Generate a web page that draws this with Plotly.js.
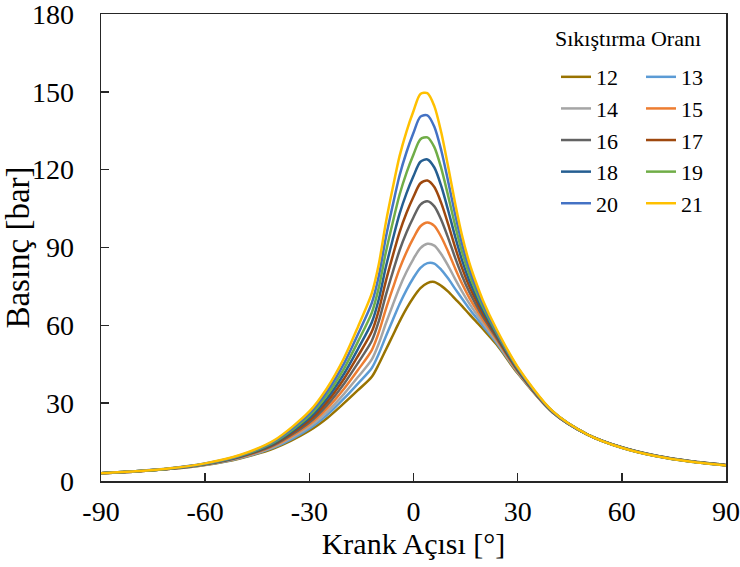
<!DOCTYPE html>
<html>
<head>
<meta charset="utf-8">
<script src="https://cdn.plot.ly/plotly-3.0.1.min.js"></script>
<style>html,body{margin:0;padding:0;background:#fff;}#chart{width:740px;height:567px;}</style>
</head>
<body>
<div id="chart"></div>
<script>
const angles = [-90,-80,-70,-60,-50,-40,-30,-25,-20,-16,-12,-10,-8,-6,-4,-2,0,2,4,6,8,10,12,14,16,18,20,24,30,40,50,60,70,80,90];
const cr12 = [3.0,3.65,4.67,6.2,8.7,12.7,19.4,24.1,30.0,35.0,40.2,45.0,50.5,56.0,61.5,66.5,70.8,74.3,76.3,76.7,75.2,73.0,70.2,67.4,64.4,61.5,58.6,52.5,41.5,26.5,18.0,13.0,9.7,7.6,6.2];
const cr13 = [3.0,3.66,4.7,6.26,8.84,13.03,20.18,25.31,31.83,37.56,43.58,49.04,55.62,61.96,68.2,73.67,78.34,82.16,83.99,83.82,81.41,78.04,74.06,70.25,66.51,63.09,59.76,53.1,41.8,26.5,18.0,13.0,9.7,7.6,6.2];
const cr14 = [3.0,3.67,4.72,6.32,8.97,13.34,20.93,26.48,33.6,40.05,46.87,52.97,60.6,67.76,74.71,80.64,85.66,89.8,91.45,90.73,87.43,82.94,77.82,73.01,68.56,64.63,60.88,53.7,42.0,26.6,18.0,12.9,9.7,7.6,6.2];
const cr15 = [3.0,3.69,4.75,6.39,9.12,13.69,21.76,27.77,35.55,42.78,50.47,57.28,66.07,74.12,81.85,88.29,93.7,98.19,99.65,98.33,94.05,88.31,81.94,76.04,70.81,66.32,62.11,54.4,42.3,26.6,18.0,12.9,9.6,7.5,6.1];
const cr16 = [3.0,3.7,4.77,6.46,9.26,14.03,22.58,29.05,37.48,45.49,54.05,61.56,71.48,80.42,88.93,95.87,101.67,106.51,107.78,105.85,100.61,93.64,86.02,79.05,73.04,67.99,63.33,55.0,42.6,26.7,18.0,12.9,9.6,7.5,6.1];
const cr17 = [3.0,3.72,4.8,6.52,9.4,14.37,23.4,30.31,39.4,48.18,57.59,65.79,76.85,86.67,95.95,103.38,109.57,114.75,115.83,113.31,107.11,98.92,90.07,82.03,75.25,69.65,64.54,55.7,42.9,26.7,18.0,12.9,9.6,7.5,6.1];
const cr18 = [3.0,3.73,4.83,6.59,9.55,14.72,24.22,31.59,41.33,50.88,61.16,70.06,82.27,92.98,103.03,110.96,117.54,123.06,123.95,120.84,113.67,104.25,94.16,85.04,77.49,71.33,65.76,56.3,43.2,26.8,18.0,12.9,9.6,7.5,6.1];
const cr19 = [3.0,3.74,4.85,6.66,9.7,15.08,25.08,32.92,43.35,53.71,64.9,74.53,87.93,99.57,110.43,118.89,125.87,131.75,132.44,128.7,120.53,109.82,98.43,88.19,79.82,73.08,67.04,57.0,43.5,26.9,18.0,12.8,9.5,7.4,6.0];
const cr20 = [3.0,3.76,4.88,6.73,9.85,15.44,25.93,34.25,45.36,56.55,68.63,79.0,93.59,106.15,117.84,126.81,134.2,140.44,140.94,136.57,127.39,115.38,102.69,91.33,82.15,74.83,68.31,57.6,43.7,26.9,18.0,12.8,9.5,7.4,6.0];
const cr21 = [3.0,3.77,4.91,6.8,10.0,15.8,26.8,35.6,47.4,59.4,72.4,83.5,99.3,112.8,125.3,134.8,142.6,149.2,149.5,144.5,134.3,121.0,107.0,94.5,84.5,76.6,69.6,58.3,44.0,27.0,18.0,12.8,9.5,7.4,6.0];

const seriesNames = ['12','13','14','15','16','17','18','19','20','21'];
const seriesValues = [cr12,cr13,cr14,cr15,cr16,cr17,cr18,cr19,cr20,cr21];
const seriesColors = ['#997300','#5B9BD5','#A5A5A5','#ED7D31','#636363','#9E480E','#255E91','#70AD47','#4472C4','#FFC000'];

const FONT = "'Liberation Serif', 'Times New Roman', serif";

const traces = seriesValues.map((vals, i) => ({
  type: 'scatter',
  mode: 'lines',
  x: angles,
  y: vals,
  name: seriesNames[i],
  legend: (i % 2 === 0) ? 'legend' : 'legend2',
  line: {color: seriesColors[i], width: 2.5, shape: 'spline', smoothing: 0.8},
  hoverinfo: 'x+y+name'
}));

const legendCommon = {
  orientation: 'v',
  bgcolor: 'rgba(0,0,0,0)',
  borderwidth: 0,
  font: {family: FONT, size: 22, color: '#000'},
  xanchor: 'left',
  yanchor: 'top',
  tracegroupgap: 0,
  itemwidth: 30
};

const layout = {
  width: 740,
  height: 567,
  margin: {l: 101, r: 14, t: 14, b: 86},
  paper_bgcolor: '#fff',
  plot_bgcolor: '#fff',
  font: {family: FONT, color: '#000'},
  showlegend: true,
  legend: Object.assign({}, legendCommon, {x: 0.728, y: 0.91}),
  legend2: Object.assign({}, legendCommon, {x: 0.864, y: 0.91}),
  xaxis: {
    range: [-90, 90],
    tickmode: 'array',
    tickvals: [-90,-60,-30,0,30,60,90],
    ticktext: ['-90','-60','-30','0','30','60','90'],
    ticks: 'inside',
    ticklen: 8,
    tickwidth: 1.5,
    tickcolor: '#262626',
    showline: true,
    linecolor: '#262626',
    linewidth: 1.5,
    mirror: true,
    showgrid: false,
    zeroline: false,
    ticklabelstandoff: 5,
    ticklabeloverflow: 'allow',
    tickfont: {family: FONT, size: 28, color: '#000'},
    title: {text: 'Krank Açısı [°]', font: {family: FONT, size: 30, color: '#000'}, standoff: 0},
    automargin: false
  },
  yaxis: {
    range: [0, 180],
    tickmode: 'array',
    tickvals: [0,30,60,90,120,150,180],
    ticktext: ['0','30','60','90','120','150','180'],
    ticks: 'inside',
    ticklen: 8,
    tickwidth: 1.5,
    tickcolor: '#262626',
    showline: true,
    linecolor: '#262626',
    linewidth: 1.5,
    mirror: true,
    showgrid: false,
    zeroline: false,
    ticklabelstandoff: 20,
    ticklabeloverflow: 'allow',
    tickfont: {family: FONT, size: 28, color: '#000'},
    title: {text: 'Basınç [bar]', font: {family: FONT, size: 33, color: '#000'}, standoff: 0},
    automargin: false
  },
  annotations: [{
    text: 'Sıkıştırma Oranı',
    xref: 'paper', yref: 'paper',
    x: 0.8424, y: 0.9486,
    xanchor: 'center', yanchor: 'middle',
    showarrow: false,
    font: {family: FONT, size: 22, color: '#000'}
  }]
};

Plotly.newPlot('chart', traces, layout, {displayModeBar: false, staticPlot: true});
</script>
</body>
</html>
